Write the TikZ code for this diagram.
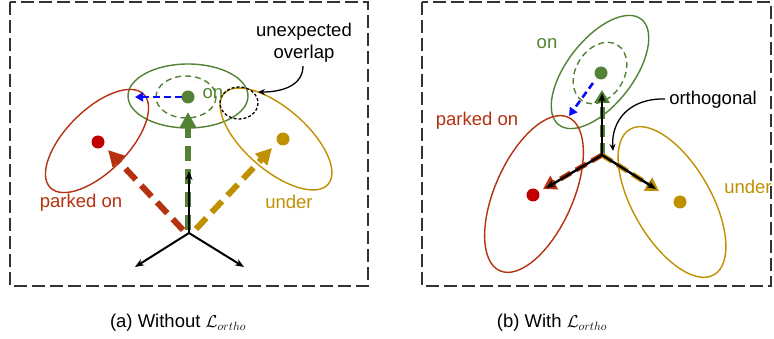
\documentclass[tikz,border=0pt]{standalone}
\usepackage{fontspec}
\setmainfont{Liberation Sans}
\usetikzlibrary{arrows.meta}
\definecolor{cred}{HTML}{B5310F}
\definecolor{cdot}{HTML}{C00000}
\definecolor{cgreen}{HTML}{548235}
\definecolor{cgold}{HTML}{BF9000}
\definecolor{cblue}{HTML}{0A0AFF}
\begin{document}
\begin{tikzpicture}[x=1pt,y=-1pt,
  frame/.style={draw=black!80, line width=1.5pt, dash pattern=on 13pt off 5pt},
  ell/.style={line width=1.4pt},
  dell/.style={line width=1.4pt, dash pattern=on 6pt off 4pt},
  dot/.style={circle, inner sep=0pt, minimum size=13pt},
  bigarr/.style={line width=6pt, dash pattern=on 15pt off 8pt, -{Triangle[length=16pt,width=16pt]}},
  midarr/.style={line width=5pt, dash pattern=on 12pt off 6pt, -{Triangle[length=13pt,width=15pt]}},
  axisarr/.style={line width=2pt, -{Stealth[length=9pt,width=7pt]}},
  bluearr/.style={cblue, line width=2.6pt, dash pattern=on 7pt off 4pt, -{Triangle[length=8pt,width=9pt]}},
  lbl/.style={font=\fontsize{18.5}{22}\selectfont, inner sep=0pt},
  note/.style={line width=1.3pt, -{Stealth[length=7pt,width=6pt]}}
]
\fill[white] (0,0) rectangle (774,339);
\useasboundingbox (0,0) rectangle (774,339);

% ---------- panel (a) ----------
\draw[frame] (10,2) rectangle (368,286);
\coordinate (gA) at (188,97);
\coordinate (rA) at (98,142);
\coordinate (yA) at (283,139);
\coordinate (oA) at (189,233);
\draw[ell, cgreen] (188,96) ellipse [x radius=60, y radius=32];
\draw[dell, cgreen] (186,97) ellipse [x radius=30, y radius=21];
\draw[ell, cred, rotate around={45:(97,141)}] (97,141) ellipse [x radius=66, y radius=31];
\draw[ell, cgold, rotate around={-41:(276,139)}] (276,139) ellipse [x radius=69, y radius=31];
\draw[black, line width=1.3pt, dash pattern=on 3pt off 2pt] (239,103) ellipse [x radius=19, y radius=16];

\coordinate (gAtip) at (188,112);
\coordinate (rAtip) at (108,150);
\coordinate (yAtip) at (272,148);
\coordinate (gAs) at (188,230);
\coordinate (rAs) at (183,230);
\coordinate (yAs) at (196,229);
\draw[bigarr, cgreen] (gAs) -- (gAtip);
\draw[bigarr, cred] (rAs) -- (rAtip);
\draw[bigarr, cgold] (yAs) -- (yAtip);

\coordinate (aUp) at (189,171);
\coordinate (aL) at (135,267);
\coordinate (aR) at (244,267);
\draw[axisarr] (oA) -- (aUp);
\draw[axisarr] (oA) -- (aL);
\draw[axisarr] (oA) -- (aR);

\node[dot, fill=cgreen] (gdotA) at (gA) {};
\node[dot, fill=cdot] (rdotA) at (rA) {};
\node[dot, fill=cgold] (ydotA) at (yA) {};
\coordinate (blueA) at (135,97);
\draw[bluearr] (182,97) -- (blueA);

\node[lbl, text=cgreen] (onA) at (213,94) {on};
\node[lbl, text=cred] (parkA) at (81,203) {parked on};
\node[lbl, text=cgold] (underA) at (289,202) {under};
\node[lbl, align=center] (overlap) at (304,43) {unexpected\\overlap};
\coordinate (ovtip) at (258,92);
\draw[note] (303,66) .. controls (303,84) and (285,92) .. (ovtip);

% ---------- panel (b) ----------
\draw[frame] (422,2) rectangle (771,286);
\coordinate (gB) at (601,73);
\coordinate (rB) at (533,195);
\coordinate (yB) at (680,202);
\coordinate (oB) at (602,155);
\draw[ell, cgreen, rotate around={52:(600,72)}] (600,72) ellipse [x radius=67, y radius=33];
\draw[dell, cgreen, rotate around={58:(600,73)}] (600,73) ellipse [x radius=33, y radius=24];
\draw[ell, cred, rotate around={66:(534,194)}] (534,194) ellipse [x radius=84, y radius=39];
\draw[ell, cgold, rotate around={-60:(672,202)}] (672,202) ellipse [x radius=84, y radius=39];

\coordinate (gBtip) at (602,90);
\coordinate (rBtip) at (543,189);
\coordinate (yBtip) at (659,191);
\draw[midarr, cgreen] (oB) -- (gBtip);
\draw[midarr, cred] (oB) -- (rBtip);
\draw[midarr, cgold] (oB) -- (yBtip);
\coordinate (bUp) at (602,93);
\coordinate (bL) at (546,188);
\coordinate (bR) at (656,189);
\draw[axisarr, line width=2.4pt] (oB) -- (bUp);
\draw[axisarr, line width=2.4pt] (oB) -- (bL);
\draw[axisarr, line width=2.4pt] (oB) -- (bR);

\node[dot, fill=cgreen] (gdotB) at (gB) {};
\node[dot, fill=cdot] (rdotB) at (rB) {};
\node[dot, fill=cgold] (ydotB) at (yB) {};
\coordinate (blueB) at (569,116);
\draw[bluearr] (593,83) -- (blueB);

\node[lbl, text=cgreen] (onB) at (547,44) {on};
\node[lbl, text=cred] (parkB) at (477,121) {parked on};
\node[lbl, text=cgold] (underB) at (748,187) {under};
\node[lbl] (ortho) at (713,100) {orthogonal};
\coordinate (orthotip) at (613,151);
\draw[note] (ortho.west) ++(-4,-1) .. controls (630,98) and (611,120) .. (orthotip);

% ---------- captions ----------
\node[lbl] (capA) at (178,323) {(a) Without $\mathcal{L}_{ortho}$};
\node[lbl] (capB) at (552,323) {(b) With $\mathcal{L}_{ortho}$};
\end{tikzpicture}
\end{document}
